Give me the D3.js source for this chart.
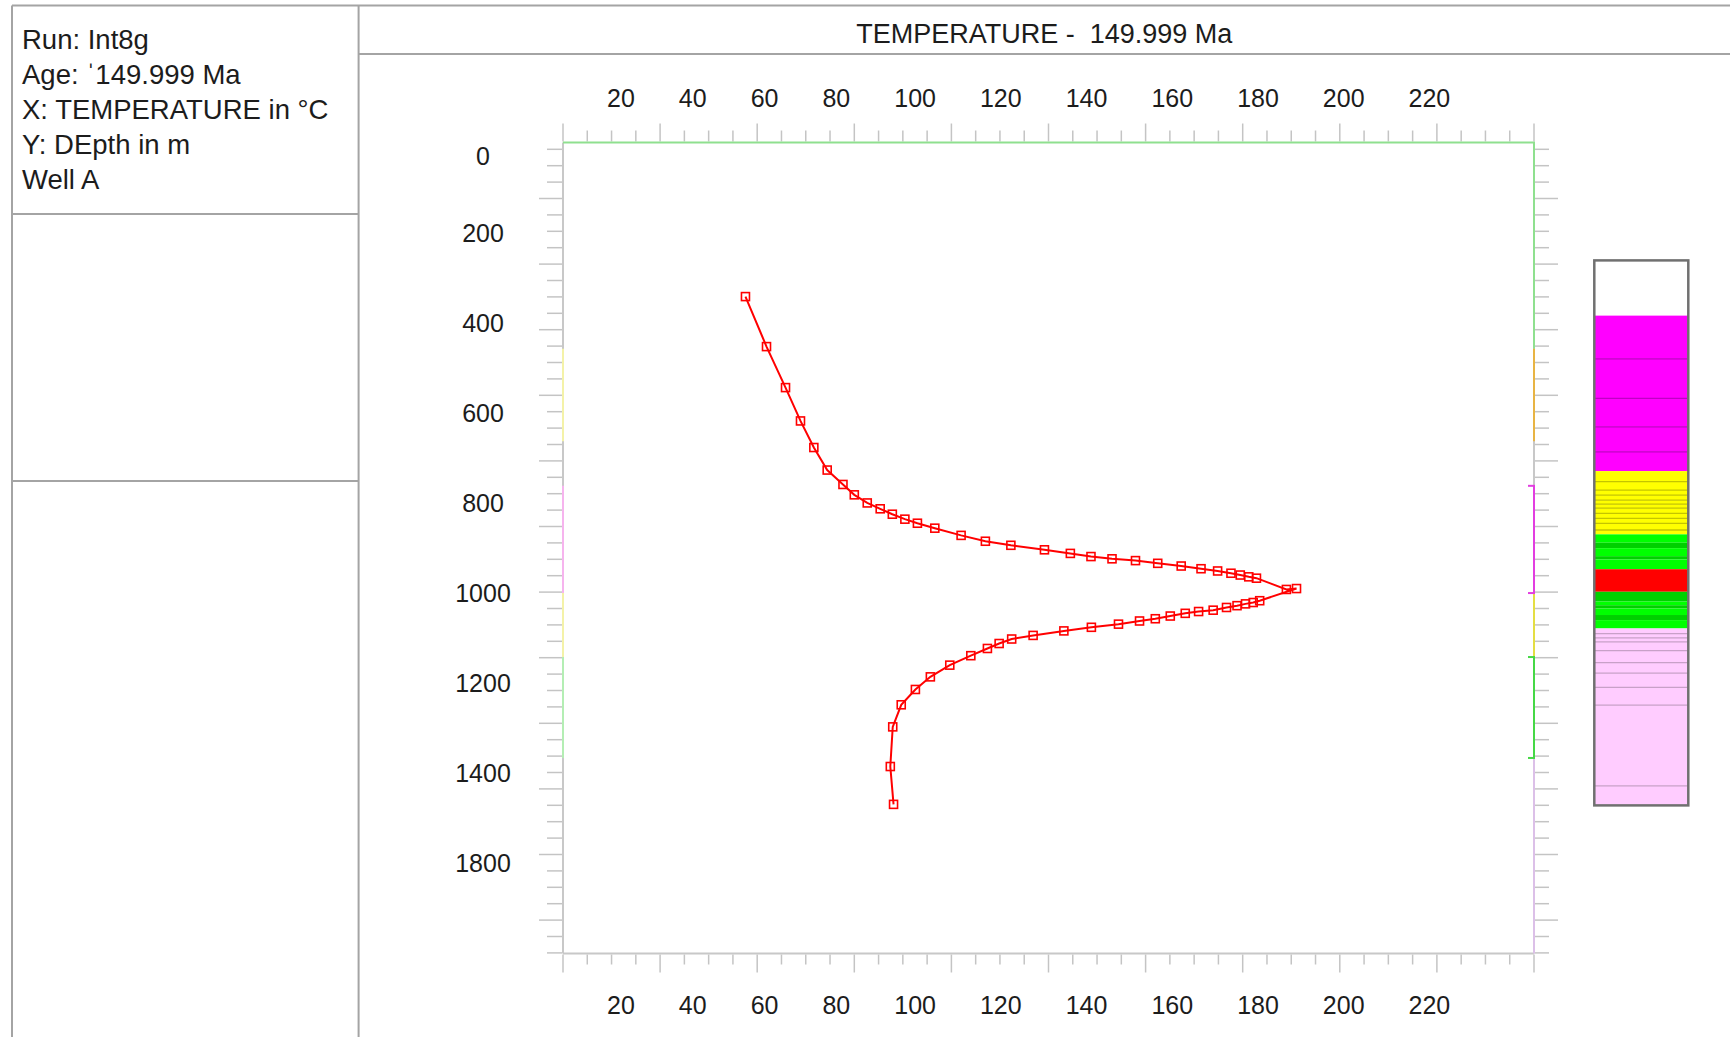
<!DOCTYPE html>
<html>
<head>
<meta charset="utf-8">
<script src="https://cdn.jsdelivr.net/npm/d3@7"></script>
<style>
body { margin: 0; background: #fff; }
text { font-family: "Liberation Sans", Arial, sans-serif; fill: #1c1c1c; }
</style>
</head>
<body>
<script>
// Temperature profile at 149.999 Ma
var temperature = [55.1, 60.3, 65.0, 68.7, 72.0, 75.3, 79.2, 82.0, 85.2, 88.4, 91.4, 94.5,
  97.6, 101.9, 108.4, 114.4, 120.7, 129.0, 135.4, 140.5, 145.7, 151.5, 157.0, 162.8,
  167.7, 171.8, 175.1, 177.4, 179.5, 181.4, 188.8, 191.3, 182.2, 180.6, 178.7, 176.6,
  174.0, 170.7, 167.1, 163.8, 160.1, 156.4, 152.5, 147.3, 140.6, 133.8, 126.2, 120.9,
  117.8, 114.9, 110.8, 105.6, 100.8, 97.1, 93.6, 91.5, 90.9, 91.7];
var depth = [342, 453, 544, 618, 677, 727, 759, 782, 800, 813, 825, 836,
  845, 856, 872, 885, 894, 904, 912, 919, 924, 928, 934, 940,
  946, 951, 956, 960, 964, 967, 992, 990, 1017, 1021, 1024, 1028,
  1032, 1038, 1041, 1045, 1051, 1057, 1062, 1069, 1076, 1084, 1094, 1102,
  1112, 1123, 1139, 1160, 1186, 1214, 1248, 1297, 1385, 1469];

var xTickValues = [20, 40, 60, 80, 100, 120, 140, 160, 180, 200, 220];
var yTickValues = [0, 200, 400, 600, 800, 1000, 1200, 1400, 1600];
var yTickLabels = ["0", "200", "400", "600", "800", "1000", "1200", "1400", "1800"];

var infoLines = ["Run: Int8g", "Age: \u02c8149.999 Ma", "X: TEMPERATURE in \u00b0C", "Y: DEpth in m", "Well A"];
var title = "TEMPERATURE -  149.999 Ma";

// formation intervals shown on the frame edges (depth in m)
var zoneTops = [0, 458, 663, 762, 1000, 1142, 1366];
var zoneRight = ["#8fe08f", "#e8b444", null, "#e23ee0", "#e4de44", "#46d846", "#dcc0e8"];
var zoneLeft = [null, "#f4f2a8", null, "#f6b4ee", "#f4f2a8", "#b4eeb4", null];
var zoneBracket = [false, false, false, true, false, true, false];

// lithology column (tops in m along the column)
var lithTops = [0, 152, 271, 380, 458, 527,
  580, 609, 632, 646, 660, 671, 682, 696, 710, 724, 742,
  754, 777, 792, 814, 823,
  850,
  912, 939, 949, 958, 976, 990,
  1013, 1027, 1039, 1050, 1074, 1107, 1136, 1175, 1224, 1446];
var lithType = ["none", "mag", "mag", "mag", "mag", "mag",
  "yel", "yel", "yel", "yel", "yel", "yel", "yel", "yel", "yel", "yel", "yel",
  "grnL", "grnD", "grnL", "grnD", "grnL",
  "red",
  "grnD", "grnL", "grnD", "grnL", "grnD", "grnL",
  "pink", "pink", "pink", "pink", "pink", "pink", "pink", "pink", "pink", "pink"];
var lithBase = 1500;

var lithFill = {none: "#ffffff", mag: "#ff00ff", yel: "#ffff00", grnL: "#00ff00", grnD: "#00d000", red: "#ff0000", pink: "#ffccff"};
var lithLine = {none: "#ffffff", mag: "#c000c4", yel: "#c4c400", grnL: "#00b800", grnD: "#00b000", red: "#ff0000", pink: "#c8a0c8"};

var W = 1730, H = 1037;
var fLeft = 563, fRight = 1534, fTop = 142.5, fBottom = 953.5;
var panelX = 12, infoRight = 358.6;

var svg = d3.select("body").append("svg").attr("width", W).attr("height", H);

var x = d3.scaleLinear().domain([10, 250]).range([fLeft, fRight]);
var y = d3.scaleLinear().domain([0, 1800]).range([fTop, fBottom]);

// page panels
var panel = svg.append("g").attr("stroke", "#a4a4a4").attr("stroke-width", 2);
panel.append("line").attr("x1", panelX).attr("x2", W).attr("y1", 5.5).attr("y2", 5.5);
panel.append("line").attr("x1", panelX).attr("x2", panelX).attr("y1", 5.5).attr("y2", H);
panel.append("line").attr("x1", infoRight).attr("x2", infoRight).attr("y1", 5.5).attr("y2", H);
panel.append("line").attr("x1", panelX).attr("x2", infoRight).attr("y1", 214).attr("y2", 214);
panel.append("line").attr("x1", panelX).attr("x2", infoRight).attr("y1", 481).attr("y2", 481);
panel.append("line").attr("x1", infoRight).attr("x2", W).attr("y1", 54).attr("y2", 54);

svg.selectAll(".info").data(infoLines).enter().append("text")
  .attr("class", "info")
  .attr("x", 22)
  .attr("y", function(d, i) { return 48.5 + i * 35; })
  .style("font-size", "27.5px")
  .text(function(d) { return d; });

svg.append("text")
  .attr("x", (infoRight + W) / 2).attr("y", 42.5)
  .attr("text-anchor", "middle")
  .attr("xml:space", "preserve")
  .style("white-space", "pre")
  .style("font-size", "27px")
  .text(title);

// frame ticks (decorative, evenly spaced)
var tickColor = "#c4c4c4";
var xt = d3.scaleLinear().domain([0, 40]).range([fLeft, fRight]);
var yt = d3.scaleLinear().domain([0, 49]).range([149.3, 952.9]);
var ticks = svg.append("g").attr("stroke", tickColor).attr("stroke-width", 1.5);
ticks.selectAll(".tt").data(d3.range(41)).enter().append("line")
  .attr("x1", function(d) { return xt(d); }).attr("x2", function(d) { return xt(d); })
  .attr("y1", fTop - 1).attr("y2", function(d) { return fTop - 1 - (d % 4 === 0 ? 18 : 11); });
ticks.selectAll(".tb").data(d3.range(41)).enter().append("line")
  .attr("x1", function(d) { return xt(d); }).attr("x2", function(d) { return xt(d); })
  .attr("y1", fBottom + 1).attr("y2", function(d) { return fBottom + 1 + (d % 4 === 0 ? 18 : 10); });
ticks.selectAll(".tl").data(d3.range(50)).enter().append("line")
  .attr("y1", function(d) { return yt(d); }).attr("y2", function(d) { return yt(d); })
  .attr("x1", fLeft - 1).attr("x2", function(d) { return fLeft - 1 - (d % 4 === 3 ? 23 : 15); });
ticks.selectAll(".tr").data(d3.range(50)).enter().append("line")
  .attr("y1", function(d) { return yt(d); }).attr("y2", function(d) { return yt(d); })
  .attr("x1", fRight + 1).attr("x2", function(d) { return fRight + 1 + (d % 4 === 3 ? 23 : 14); });

// frame
var frame = svg.append("g").attr("stroke-width", 2).attr("fill", "none");
frame.append("line").attr("x1", fLeft).attr("x2", fLeft).attr("y1", fTop).attr("y2", fBottom).attr("stroke", "#c8c8c8");
frame.append("line").attr("x1", fRight).attr("x2", fRight).attr("y1", fTop).attr("y2", fBottom).attr("stroke", "#c8c8c8");
frame.append("line").attr("x1", fLeft).attr("x2", fRight).attr("y1", fBottom).attr("y2", fBottom).attr("stroke", "#c8c8c8");
frame.append("line").attr("x1", fLeft).attr("x2", fRight + 1).attr("y1", fTop).attr("y2", fTop).attr("stroke", "#8fe08f");

var zones = zoneTops.map(function(t, i) {
  return {top: t, base: i + 1 < zoneTops.length ? zoneTops[i + 1] : 1800,
    right: zoneRight[i], left: zoneLeft[i], bracket: zoneBracket[i]};
});
frame.selectAll(".zr").data(zones.filter(function(d) { return d.right; })).enter().append("line")
  .attr("x1", fRight).attr("x2", fRight)
  .attr("y1", function(d) { return y(d.top); }).attr("y2", function(d) { return y(d.base); })
  .attr("stroke", function(d) { return d.right; });
frame.selectAll(".zl").data(zones.filter(function(d) { return d.left; })).enter().append("line")
  .attr("x1", fLeft).attr("x2", fLeft)
  .attr("y1", function(d) { return y(d.top); }).attr("y2", function(d) { return y(d.base); })
  .attr("stroke", function(d) { return d.left; });
zones.filter(function(d) { return d.bracket; }).forEach(function(d) {
  [d.top, d.base].forEach(function(v) {
    frame.append("line").attr("x1", fRight - 6).attr("x2", fRight + 1)
      .attr("y1", y(v)).attr("y2", y(v)).attr("stroke", d.right);
  });
});

// axis labels: x labels flow from the frame edge with a fixed gap, as in the original
var labelGap = 44;
function flowLabels(yPos) {
  var cursor = fLeft;
  svg.append("g").selectAll("text").data(xTickValues).enter().append("text")
    .attr("y", yPos)
    .style("font-size", "25px")
    .text(function(d) { return d; })
    .each(function() {
      var w = this.getComputedTextLength();
      cursor += labelGap;
      d3.select(this).attr("x", cursor);
      cursor += w;
    });
}
flowLabels(107);
flowLabels(1014);

svg.append("g").selectAll("text").data(yTickValues).enter().append("text")
  .attr("x", 483)
  .attr("y", function(d) { return Math.max(y(d), y(0) + 13); })
  .attr("dy", "0.36em")
  .attr("text-anchor", "middle")
  .style("font-size", "25px")
  .text(function(d, i) { return yTickLabels[i]; });

// temperature curve
var points = temperature.map(function(t, i) { return {t: t, z: depth[i]}; });
var line = d3.line().x(function(d) { return x(d.t); }).y(function(d) { return y(d.z); });
svg.append("path").datum(points)
  .attr("d", line)
  .attr("fill", "none")
  .attr("stroke", "#ff0000")
  .attr("stroke-width", 2);
svg.append("g").selectAll("rect").data(points).enter().append("rect")
  .attr("x", function(d) { return x(d.t) - 4; })
  .attr("y", function(d) { return y(d.z) - 4; })
  .attr("width", 8).attr("height", 8)
  .attr("fill", "none")
  .attr("stroke", "#ff0000")
  .attr("stroke-width", 1.6);

// lithology column
var colLeft = 1594.3, colRight = 1688.3;
var cy = d3.scaleLinear().domain([0, lithBase]).range([260.4, 805.4]);
var lith = lithTops.map(function(t, i) {
  return {top: t, base: i + 1 < lithTops.length ? lithTops[i + 1] : lithBase, type: lithType[i]};
});
var col = svg.append("g");
col.selectAll("rect").data(lith).enter().append("rect")
  .attr("x", colLeft).attr("width", colRight - colLeft)
  .attr("y", function(d) { return cy(d.top); })
  .attr("height", function(d) { return cy(d.base) - cy(d.top); })
  .attr("fill", function(d) { return lithFill[d.type]; });
col.selectAll("line").data(lith.filter(function(d, i) { return i > 0 && d.type !== "red" && lith[i - 1].type === d.type; }))
  .enter().append("line")
  .attr("x1", colLeft).attr("x2", colRight)
  .attr("y1", function(d) { return cy(d.top); }).attr("y2", function(d) { return cy(d.top); })
  .attr("stroke", function(d) { return lithLine[d.type]; })
  .attr("stroke-width", 1.3);
col.append("rect")
  .attr("x", colLeft).attr("y", cy(0))
  .attr("width", colRight - colLeft).attr("height", cy(lithBase) - cy(0))
  .attr("fill", "none").attr("stroke", "#707070").attr("stroke-width", 2.5);
</script>
</body>
</html>
